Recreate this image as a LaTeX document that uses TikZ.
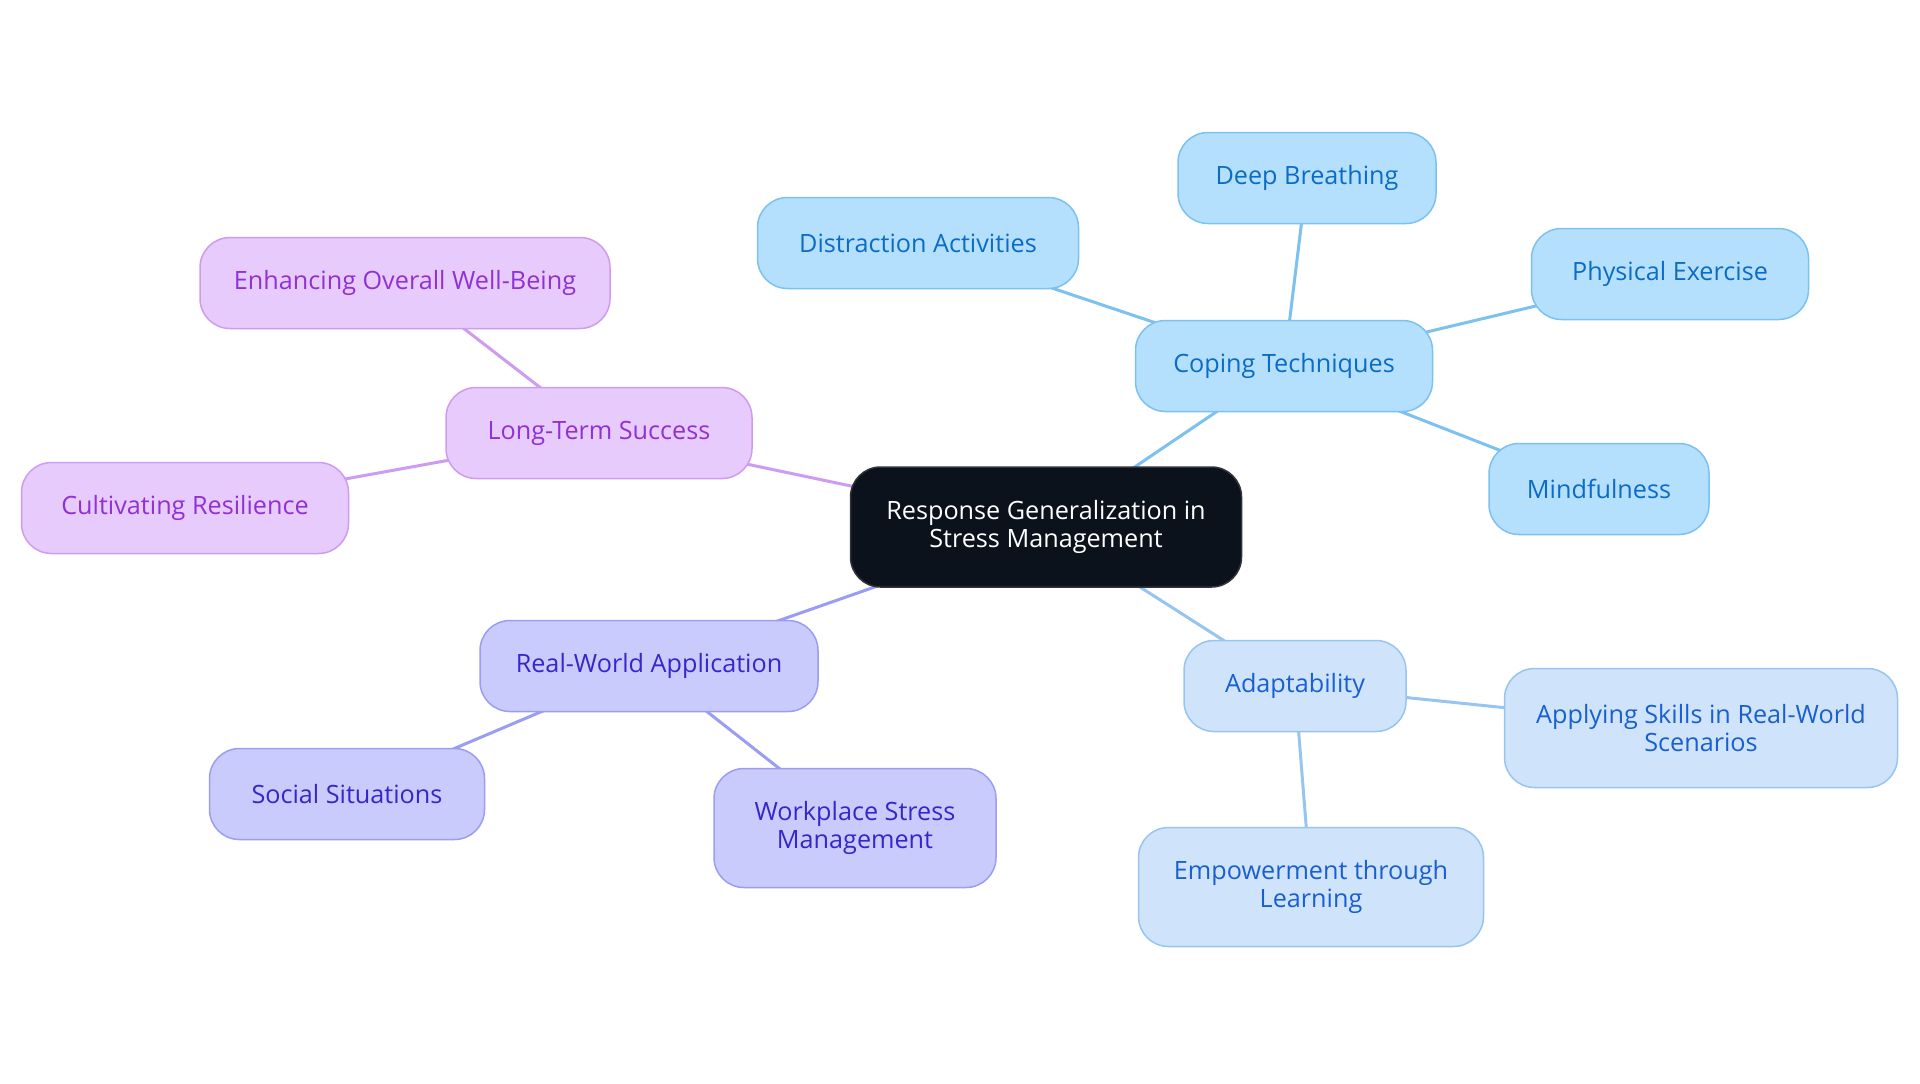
\documentclass[tikz,border=0pt]{standalone}
\usepackage{fontspec}
\setmainfont{Open Sans}
\usetikzlibrary{backgrounds}
\definecolor{cfill}{HTML}{B5E0FD}
\definecolor{cdraw}{HTML}{7CC1F0}
\definecolor{ctext}{HTML}{0C6CC4}
\definecolor{afill}{HTML}{CFE4FB}
\definecolor{adraw}{HTML}{98C4F0}
\definecolor{atext}{HTML}{1A5FCF}
\definecolor{rfill}{HTML}{C9CBFD}
\definecolor{rdraw}{HTML}{9A9DF2}
\definecolor{rtext}{HTML}{3527C9}
\definecolor{lfill}{HTML}{E8CBFD}
\definecolor{ldraw}{HTML}{CE9BF0}
\definecolor{ltext}{HTML}{9031D3}
\definecolor{rootfill}{HTML}{0C121C}
\tikzset{
  box/.style={rectangle, rounded corners=15pt, line width=0.75pt, align=center,
    inner sep=2pt, font=\fontsize{12.6}{14}\selectfont},
  one/.style={minimum height=45.5pt},
  two/.style={minimum height=59.5pt},
  cbox/.style={box, fill=cfill, draw=cdraw, text=ctext},
  abox/.style={box, fill=afill, draw=adraw, text=atext},
  rbox/.style={box, fill=rfill, draw=rdraw, text=rtext},
  lbox/.style={box, fill=lfill, draw=ldraw, text=ltext},
  rootbox/.style={box, fill=rootfill, draw=rootfill!70!gray, text=white},
  cedge/.style={draw=cdraw, line width=1.5pt},
  aedge/.style={draw=adraw, line width=1.5pt},
  redge/.style={draw=rdraw, line width=1.5pt},
  ledge/.style={draw=ldraw, line width=1.5pt},
}
\begin{document}
\begin{tikzpicture}[x=0.5pt, y=-0.5pt]
\useasboundingbox (0,0) rectangle (1920,1083);
% root
\node[rootbox, minimum width=195.5pt, minimum height=60pt] (root) at (1046,527) {Response Generalization in\\Stress Management};
% coping cluster
\node[cbox, one, minimum width=148.5pt] (cope) at (1284,366) {Coping Techniques};
\node[cbox, one, minimum width=129pt] (deep) at (1307,178) {Deep Breathing};
\node[cbox, one, minimum width=160.5pt] (dist) at (918,243) {Distraction Activities};
\node[cbox, one, minimum width=138.5pt] (phys) at (1670,274) {Physical Exercise};
\node[cbox, one, minimum width=110pt] (mind) at (1599,489) {Mindfulness};
% adaptability cluster
\node[abox, one, minimum width=111pt] (adapt) at (1295,686) {Adaptability};
\node[abox, two, minimum width=196.5pt] (apply) at (1701,728) {Applying Skills in Real-World\\Scenarios};
\node[abox, two, minimum width=172.5pt] (empow) at (1311,887) {Empowerment through\\Learning};
% real world cluster
\node[rbox, one, minimum width=169pt] (real) at (649,666) {Real-World Application};
\node[rbox, one, minimum width=137.5pt] (social) at (347,794) {Social Situations};
\node[rbox, two, minimum width=141pt] (work) at (855,828) {Workplace Stress\\Management};
% long term cluster
\node[lbox, one, minimum width=153pt] (long) at (599,433) {Long-Term Success};
\node[lbox, one, minimum width=205pt] (enh) at (405,283) {Enhancing Overall Well-Being};
\node[lbox, one, minimum width=163.5pt] (cult) at (185,508) {Cultivating Resilience};
\begin{pgfonlayer}{background}
\fill[white] (0,0) rectangle (1920,1083);
\draw[cedge] (root.center) -- (cope.center);
\draw[cedge] (cope.center) -- (deep.center);
\draw[cedge] (cope.center) -- (dist.center);
\draw[cedge] (cope.center) -- (phys.center);
\draw[cedge] (cope.center) -- (mind.center);
\draw[aedge] (root.center) -- (adapt.center);
\draw[aedge] (adapt.center) -- (apply.center);
\draw[aedge] (adapt.center) -- (empow.center);
\draw[redge] (root.center) -- (real.center);
\draw[redge] (real.center) -- (social.center);
\draw[redge] (real.center) -- (work.center);
\draw[ledge] (root.center) -- (long.center);
\draw[ledge] (long.center) -- (enh.center);
\draw[ledge] (long.center) -- (cult.center);
\end{pgfonlayer}
\end{tikzpicture}
\end{document}
